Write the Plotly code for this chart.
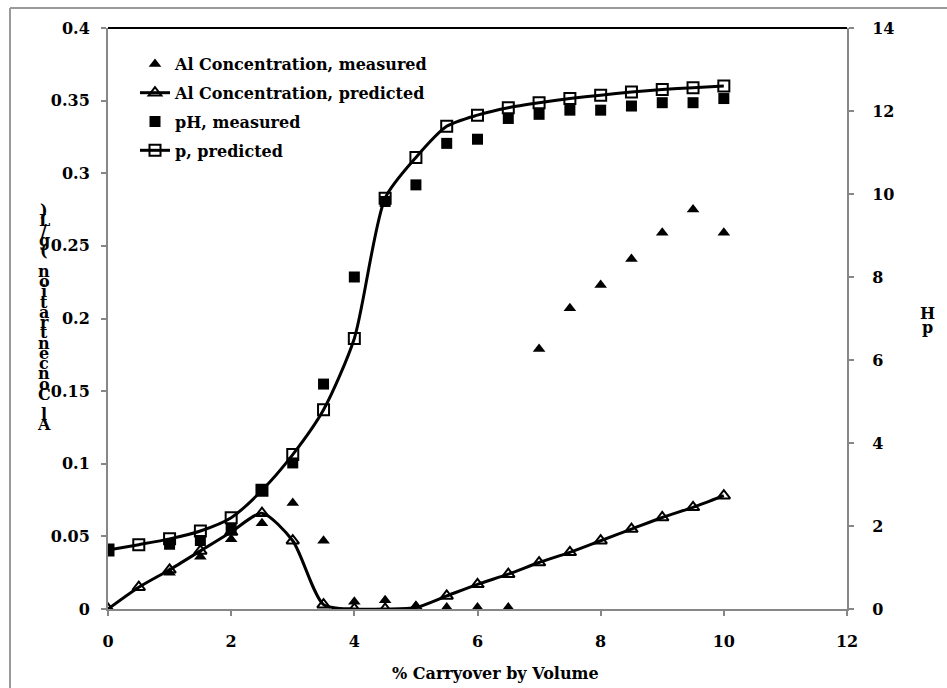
import plotly.graph_objects as go

# ---------------- data ----------------
x_al_meas = [1, 1.5, 2, 2.5, 3, 3.5, 4, 4.5, 5, 5.5, 6, 6.5, 7, 7.5, 8, 8.5, 9, 9.5, 10]
al_meas = [0.025, 0.036, 0.048, 0.059, 0.073, 0.047, 0.005, 0.006, 0.002, 0.001, 0.001, 0.001,
           0.179, 0.207, 0.223, 0.241, 0.259, 0.275, 0.259]

x_al_pred = [0, 0.5, 1, 1.5, 2, 2.5, 3, 3.5, 4, 4.5, 5, 5.5, 6, 6.5, 7, 7.5, 8, 8.5, 9, 9.5, 10]
al_pred = [0.0, 0.015, 0.027, 0.040, 0.053, 0.066, 0.047, 0.003, 0.0, 0.0, 0.001, 0.009, 0.017,
           0.024, 0.032, 0.039, 0.047, 0.055, 0.063, 0.070, 0.078]

x_ph_meas = [0, 1, 1.5, 2, 2.5, 3, 3.5, 4, 4.5, 5, 5.5, 6, 6.5, 7, 7.5, 8, 8.5, 9, 9.5, 10]
ph_meas = [1.42, 1.56, 1.65, 1.94, 2.86, 3.52, 5.42, 8.0, 9.82, 10.22, 11.22, 11.32, 11.82,
           11.92, 12.02, 12.02, 12.12, 12.2, 12.2, 12.3]

x_ph_pred = [0, 0.5, 1, 1.5, 2, 2.5, 3, 3.5, 4, 4.5, 5, 5.5, 6, 6.5, 7, 7.5, 8, 8.5, 9, 9.5, 10]
ph_pred = [1.42, 1.55, 1.69, 1.88, 2.2, 2.86, 3.72, 4.8, 6.52, 9.9, 10.88, 11.63, 11.9, 12.08,
           12.2, 12.3, 12.38, 12.46, 12.52, 12.56, 12.6]

names = ["Al Concentration, measured", "Al Concentration, predicted", "pH, measured", "p, predicted"]
x_title = "% Carryover by Volume"
y_title = "Al Concentration (g/L)"
y2_title = "pH"

# ---------------- layout geometry ----------------
W, H = 947, 688
PL, PR, PT, PB = 108, 847, 28, 609
FONT = "DejaVu Serif"
FS = 16
AXC = "#878787"


def px(xp):
    return (xp - PL) / (PR - PL)


def py(yp):
    return (PB - yp) / (PB - PT)


fig = go.Figure()
fig.add_trace(go.Scatter(
    x=x_al_meas, y=al_meas, mode="markers", name=names[0], legendgroup="g1",
    marker=dict(symbol="triangle-up", size=11, color="black")))
fig.add_trace(go.Scatter(
    x=x_al_pred, y=al_pred, mode="lines+markers", name=names[1], legendgroup="g2",
    line=dict(color="black", width=3, shape="spline", smoothing=0.7),
    marker=dict(symbol="triangle-up-open", size=11, color="black", line=dict(width=2, color="black"))))
fig.add_trace(go.Scatter(
    x=x_ph_meas, y=ph_meas, mode="markers", name=names[2], legendgroup="g3", yaxis="y2",
    marker=dict(symbol="square", size=11, color="black")))
fig.add_trace(go.Scatter(
    x=x_ph_pred, y=ph_pred, mode="lines+markers", name=names[3], legendgroup="g4", yaxis="y2",
    line=dict(color="black", width=3, shape="spline", smoothing=0.7),
    marker=dict(symbol="square-open", size=11, color="black", line=dict(width=2, color="black"))))

tickfont = dict(family=FONT, size=FS, color="black", weight="bold")
axis_common = dict(showline=True, linecolor=AXC, linewidth=2, ticks="outside", ticklen=5,
                   tickcolor=AXC, tickwidth=1.5, showgrid=False, zeroline=False,
                   tickfont=tickfont, fixedrange=True)

annotations = []
# stacked, reversed left-axis title
chars = list(y_title)[::-1]
top_y, bot_y = 210, 425
step = (bot_y - top_y) / (len(chars) - 1)
for i, ch in enumerate(chars):
    if ch == " ":
        continue
    annotations.append(dict(text=ch, xref="paper", yref="paper", x=px(44), y=py(top_y + i * step),
                            showarrow=False, xanchor="center", yanchor="middle",
                            font=dict(family=FONT, size=FS, color="black", weight="bold")))
# stacked, reversed right-axis title
for i, ch in enumerate(list(y2_title)[::-1]):
    annotations.append(dict(text=ch, xref="paper", yref="paper", x=px(927), y=py(313 + i * 15),
                            showarrow=False, xanchor="center", yanchor="middle",
                            font=dict(family=FONT, size=FS, color="black", weight="bold")))
# x title
annotations.append(dict(text=x_title, xref="paper", yref="paper", x=px(495), y=py(673),
                        showarrow=False, xanchor="center", yanchor="middle",
                        font=dict(family=FONT, size=FS, color="black", weight="bold")))

shapes = [
    # top black border of plot area
    dict(type="line", xref="paper", yref="paper", x0=0, x1=1, y0=1, y1=1,
         line=dict(color="black", width=2)),
    # outer chart border (left and top edges visible)
    dict(type="line", xref="paper", yref="paper", x0=px(10), x1=px(10), y0=py(8), y1=py(700),
         line=dict(color="#9a9a9a", width=2)),
    dict(type="line", xref="paper", yref="paper", x0=px(10), x1=px(960), y0=py(8), y1=py(8),
         line=dict(color="#9a9a9a", width=2)),
]

fig.update_layout(
    width=W, height=H,
    margin=dict(l=PL, r=W - PR, t=PT, b=H - PB, pad=0),
    paper_bgcolor="white", plot_bgcolor="white",
    font=dict(family=FONT, size=FS, color="black"),
    xaxis=dict(range=[0, 12], dtick=2, tick0=0, ticklabelstandoff=12, **axis_common),
    yaxis=dict(range=[0, 0.4], dtick=0.05, tick0=0, ticklabelstandoff=8, **axis_common),
    yaxis2=dict(range=[0, 14], dtick=2, tick0=0, overlaying="y", side="right",
                ticklabelstandoff=15, **axis_common),
    legend=dict(x=px(135), y=py(47), xanchor="left", yanchor="top", bgcolor="rgba(0,0,0,0)",
                borderwidth=0, traceorder="grouped", tracegroupgap=5,
                font=dict(family=FONT, size=FS, color="black", weight="bold")),
    showlegend=True,
    annotations=annotations,
    shapes=shapes,
)

fig.write_html("out.html")
